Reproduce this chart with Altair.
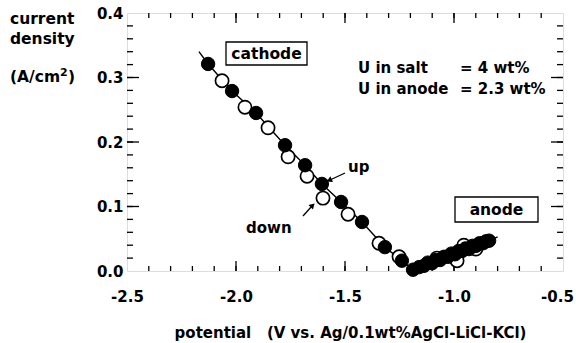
import altair as alt
import pandas as pd
import numpy as np

# ---- data ----
up_v = [-2.128, -2.018, -1.908, -1.775, -1.683, -1.606, -1.518, -1.422, -1.317, -1.239,
        -1.188, -1.160, -1.138, -1.120, -1.101, -1.082, -1.064, -1.046, -1.028, -1.012, -0.995,
        -0.979, -0.963, -0.947, -0.931, -0.915, -0.899, -0.883, -0.867, -0.853, -0.839]
up_i = [0.321, 0.279, 0.245, 0.195, 0.164, 0.135, 0.107, 0.076, 0.037, 0.016,
        0.002, 0.006, 0.008, 0.013, 0.012, 0.017, 0.017, 0.022, 0.022, 0.027, 0.026,
        0.031, 0.031, 0.035, 0.034, 0.039, 0.039, 0.043, 0.043, 0.046, 0.047]

down_v = [-2.064, -1.959, -1.853, -1.761, -1.674, -1.601, -1.486, -1.344, -1.252,
          -1.078, -0.986, -0.955, -0.900]
down_i = [0.295, 0.254, 0.222, 0.177, 0.147, 0.113, 0.088, 0.043, 0.022,
          0.020, 0.016, 0.040, 0.034]

trace_v = [-2.170, -2.128, -2.018, -1.908, -1.775, -1.683, -1.606, -1.518, -1.422, -1.317,
           -1.239, -1.188, -1.138, -1.064, -0.995, -0.931, -0.867, -0.800]
trace_i = [0.340, 0.321, 0.279, 0.245, 0.195, 0.164, 0.135, 0.107, 0.076, 0.037,
           0.016, 0.002, 0.008, 0.017, 0.026, 0.034, 0.043, 0.053]

x_labels = [-2.5, -2.0, -1.5, -1.0, -0.5]
y_labels = [0.0, 0.1, 0.2, 0.3, 0.4]

FONT = "DejaVu Sans"
W, H = 436, 258
NB = "\u00a0"

xs = alt.Scale(domain=[-2.5, -0.5], nice=False, zero=False)
ys = alt.Scale(domain=[0, 0.4], nice=False, zero=False)

up_df = pd.DataFrame({"v": up_v, "i": up_i})
down_df = pd.DataFrame({"v": down_v, "i": down_i})
trace_df = pd.DataFrame({"v": trace_v, "i": trace_i, "o": range(len(trace_v))})

xaxis = alt.Axis(values=x_labels, ticks=False, domain=False, grid=False,
                 labelExpr="replace(format(datum.value, '.1f'), '\u2212', '-')",
                 labelFont=FONT, labelFontWeight="bold", labelFontSize=15, labelColor="black",
                 labelPadding=18, labelFlush=False, labelOverlap=False,
                 labelOffset={"condition": {"test": "datum.value == -0.5", "value": -6}, "value": 0},
                 title="potential" + NB * 3 + "(V vs. Ag/0.1wt%AgCl-LiCl-KCl)",
                 titleFont=FONT, titleFontWeight="bold", titleFontSize=15, titleColor="black",
                 titleX=223, titleY=66, titleBaseline="alphabetic")
yaxis = alt.Axis(values=y_labels, ticks=False, domain=False, grid=False, title=None,
                 labelExpr="format(datum.value, '.1f')",
                 labelFont=FONT, labelFontWeight="bold", labelFontSize=15, labelColor="black",
                 labelPadding=4, labelFlush=False, labelOverlap=False)

line = alt.Chart(trace_df).mark_line(color="black", strokeWidth=1.4).encode(
    x=alt.X("v:Q", scale=xs, axis=xaxis),
    y=alt.Y("i:Q", scale=ys, axis=yaxis),
    order="o:Q",
)

open_pts = alt.Chart(down_df).mark_point(shape="circle", filled=True, fill="white",
                                         stroke="black", strokeWidth=1.7, size=175, opacity=1).encode(
    x=alt.X("v:Q", scale=xs), y=alt.Y("i:Q", scale=ys))

filled_pts = alt.Chart(up_df).mark_point(shape="circle", filled=True, fill="black",
                                         stroke="black", strokeWidth=1, size=180, opacity=1).encode(
    x=alt.X("v:Q", scale=xs), y=alt.Y("i:Q", scale=ys))

# ---- inward ticks on all four sides ----
x_minor = pd.DataFrame({"v": np.round(np.arange(-2.4, -0.55, 0.1), 2)})
x_major = pd.DataFrame({"v": [-2.0, -1.5, -1.0]})
y_minor = pd.DataFrame({"i": np.round(np.arange(0.02, 0.395, 0.02), 3)})
y_major = pd.DataFrame({"i": [0.1, 0.2, 0.3]})

def xticks(df, L):
    b = alt.Chart(df).mark_rule(color="black", strokeWidth=1.3).encode(
        x=alt.X("v:Q", scale=xs), y=alt.value(H), y2=alt.value(H - L))
    t = alt.Chart(df).mark_rule(color="black", strokeWidth=1.3).encode(
        x=alt.X("v:Q", scale=xs), y=alt.value(0), y2=alt.value(L))
    return [b, t]

def yticks(df, L):
    l = alt.Chart(df).mark_rule(color="black", strokeWidth=1.3).encode(
        y=alt.Y("i:Q", scale=ys), x=alt.value(0), x2=alt.value(L))
    r = alt.Chart(df).mark_rule(color="black", strokeWidth=1.3).encode(
        y=alt.Y("i:Q", scale=ys), x=alt.value(W), x2=alt.value(W - L))
    return [l, r]

ticks = xticks(x_minor, 5) + xticks(x_major, 10) + yticks(y_minor, 6) + yticks(y_major, 12)

# ---- annotations ----
def txt(s, x, y, align="left", baseline="alphabetic", size=15):
    return alt.Chart(pd.DataFrame({"t": [s]})).mark_text(
        font=FONT, fontWeight="bold", fontSize=size, color="black",
        align=align, baseline=baseline).encode(
        text="t:N", x=alt.value(x), y=alt.value(y))

def box(x1, x2, y1, y2):
    return alt.Chart(pd.DataFrame({"a": [0]})).mark_rect(
        fill="white", stroke="black", strokeWidth=1.3).encode(
        x=alt.value(x1), x2=alt.value(x2), y=alt.value(y1), y2=alt.value(y2))

def arrow(x1, y1, x2, y2, ang):
    shaft = alt.Chart(pd.DataFrame({"a": [0]})).mark_rule(color="black", strokeWidth=1.3).encode(
        x=alt.value(x1), y=alt.value(y1), x2=alt.value(x2), y2=alt.value(y2))
    head = alt.Chart(pd.DataFrame({"a": [0]})).mark_point(
        shape="triangle", filled=True, color="black", size=40, angle=ang, opacity=1).encode(
        x=alt.value(x2), y=alt.value(y2))
    return [shaft, head]

annots = [
    box(99, 180, 29, 52), txt("cathode", 139.5, 41, align="center", baseline="middle", size=15.5),
    box(328, 411, 184, 209), txt("anode", 369.5, 197, align="center", baseline="middle", size=15.5),
    txt("U in salt", 231, 60), txt("= 4 wt%", 333, 60),
    txt("U in anode", 231, 81), txt("= 2.3 wt%", 333, 81),
    txt("up", 221, 159), txt("down", 119, 220),
    txt("current", -117, 11, size=15.5), txt("density", -117, 31, size=15.5),
    txt("(A/cm", -117, 69, size=15.5), txt("2", -67, 63, size=11), txt(")", -59, 69, size=15.5),
] + arrow(218, 160, 203, 167, 245) + arrow(176, 203, 185, 193, 45)

chart = alt.layer(line, *ticks, open_pts, filled_pts, *annots).properties(
    width=W, height=H,
    autosize=alt.AutoSizeParams(type="none"),
    padding={"left": 127, "top": 13, "right": 13, "bottom": 72},
).configure_view(stroke="black", strokeWidth=2).configure(background="white")

chart.save("out.html", embed_options={"renderer": "svg", "actions": False})
